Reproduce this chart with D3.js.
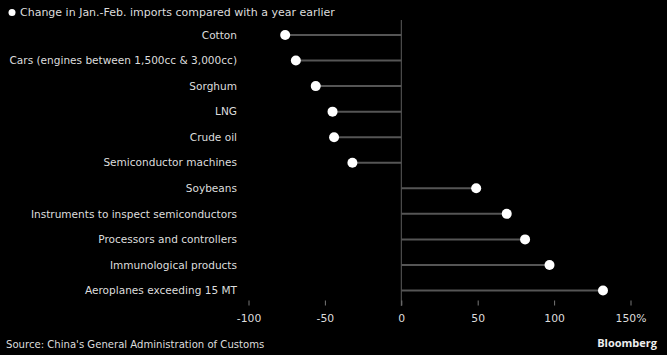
<!DOCTYPE html>
<html><head><meta charset="utf-8">
<script src="https://cdn.jsdelivr.net/npm/d3@7"></script>
<style>
html,body{margin:0;padding:0;background:#000;}
svg{display:block;}
</style></head>
<body>
<svg id="chart" width="667" height="355"></svg>
<script>
const categories = ["Cotton","Cars (engines between 1,500cc & 3,000cc)","Sorghum","LNG","Crude oil","Semiconductor machines","Soybeans","Instruments to inspect semiconductors","Processors and controllers","Immunological products","Aeroplanes exceeding 15 MT"];
const changes = [-76, -69, -56, -45, -44, -32, 49, 69, 81, 97, 132];
const tickValues = [-100, -50, 0, 50, 100, 150];
const tickLabels = ["-100", "-50", "0", "50", "100", "150%"];
const legendLabel = "Change in Jan.-Feb. imports compared with a year earlier";
const sourceText = "Source: China's General Administration of Customs";

const font = "Tahoma, 'DejaVu Sans', Verdana, sans-serif";
const svg = d3.select("#chart");
svg.append("rect").attr("width",667).attr("height",355).attr("fill","#000");

const x = d3.scaleLinear().domain([-100,150]).range([248.5,630.5]);
const y = d3.scalePoint().domain(categories).range([35,290.5]);

// zero line
svg.append("line").attr("x1",x(0)).attr("x2",x(0)).attr("y1",20).attr("y2",306)
  .attr("stroke","#5c5c5c").attr("stroke-width",1);

// axis ticks
const axis = d3.axisBottom(x).tickValues(tickValues).tickSize(5).tickFormat((d,i)=>tickLabels[i]);
const ag = svg.append("g").attr("transform","translate(0,300.5)").call(axis);
ag.select(".domain").remove();
ag.selectAll(".tick line").attr("stroke","#777");
ag.selectAll(".tick text").attr("fill","#ddd").attr("font-family",font).attr("font-size",10.8).attr("dy","1.25em");

// stems
svg.selectAll(".stem").data(categories).enter().append("line")
  .attr("x1",x(0)).attr("x2",(d,i)=>x(changes[i]))
  .attr("y1",d=>y(d)).attr("y2",d=>y(d))
  .attr("stroke","#555").attr("stroke-width",2);

// dots
svg.selectAll(".dot").data(categories).enter().append("circle")
  .attr("cx",(d,i)=>x(changes[i])).attr("cy",d=>y(d)).attr("r",5)
  .attr("fill","#fff");

// labels
svg.selectAll(".lab").data(categories).enter().append("text")
  .attr("x",237).attr("y",d=>y(d)).attr("dy","0.35em")
  .attr("text-anchor","end").attr("fill","#ddd")
  .attr("font-family",font).attr("font-size",10.55).text(d=>d);

// legend
svg.append("circle").attr("cx",12).attr("cy",12.5).attr("r",3.5).attr("fill","#fff");
svg.append("text").attr("x",20).attr("y",12.5).attr("dy","0.35em").attr("fill","#ddd")
  .attr("font-family",font).attr("font-size",11).text(legendLabel);

// source
svg.append("text").attr("x",6).attr("y",344).attr("dy","0.35em").attr("fill","#ddd")
  .attr("font-family",font).attr("font-size",10.1).text(sourceText);
svg.append("text").attr("x",657).attr("y",343).attr("dy","0.35em").attr("text-anchor","end")
  .attr("fill","#eee").attr("font-family","'Open Sans', Arial, sans-serif").attr("font-weight","bold")
  .attr("font-size",11).text("Bloomberg");
</script>
</body></html>
